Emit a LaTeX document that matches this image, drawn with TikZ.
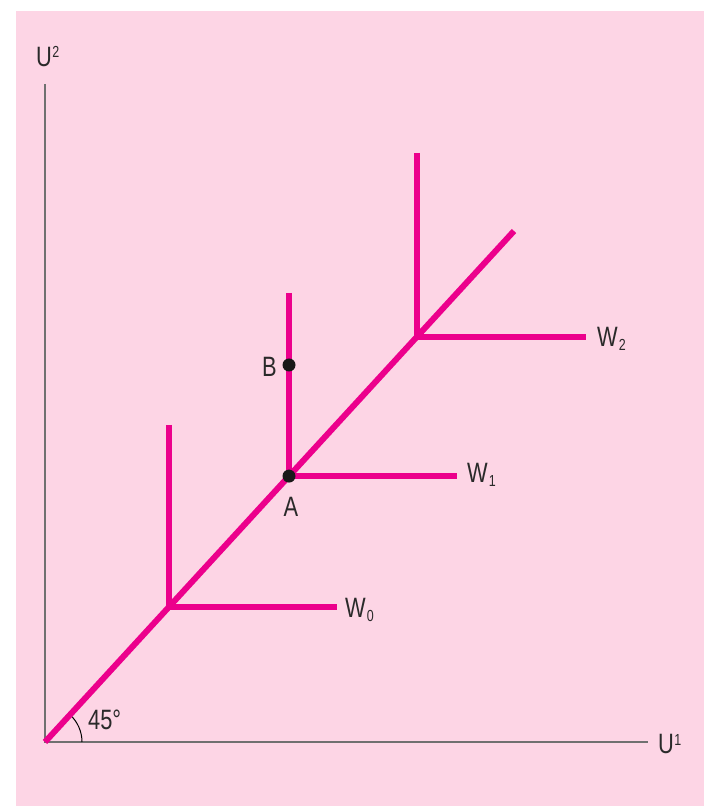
\documentclass[tikz,border=0pt]{standalone}
\usepackage{fontspec}
\usetikzlibrary{calc}
\setmainfont{Liberation Sans}[FakeStretch=0.78]
\definecolor{bgpink}{HTML}{FDD5E5}
\definecolor{mag}{HTML}{EC008C}
\definecolor{axisgray}{HTML}{707070}
\definecolor{txt}{HTML}{2A2A2A}
\newcommand{\supnum}[1]{\kern0.5pt\raisebox{9pt}{\fontsize{16}{16}\selectfont #1}}
\newcommand{\subnum}[1]{\kern1pt\raisebox{-4pt}{\fontsize{16}{16}\selectfont #1}}
\tikzset{
  wline/.style={mag, line width=6pt},
  axisline/.style={axisgray, line width=1.3pt},
  lbl/.style={font=\fontsize{28}{30}\selectfont, text=txt, inner sep=0pt},
  dot/.style={circle, fill=black!90, inner sep=0pt, minimum size=13pt}
}
\begin{document}
\begin{tikzpicture}[x=1pt,y=1pt]
\useasboundingbox (0,0) rectangle (704,806);
\fill[white] (0,0) rectangle (704,806);
\fill[bgpink] (16,0) rectangle (704,795);
% coordinates
\coordinate (O) at (45,64);
\coordinate (ytop) at (45,722);
\coordinate (xend) at (648,64);
\coordinate (Dend) at (514,575);
\coordinate (C0) at (169,199.1);
\coordinate (C0t) at (169,381);
\coordinate (C0r) at (337,199.1);
\coordinate (C1) at (289,329.9);
\coordinate (C1t) at (289,513);
\coordinate (C1r) at (457,329.9);
\coordinate (C2) at (417,469.3);
\coordinate (C2t) at (417,653);
\coordinate (C2r) at (586,469.3);
% axes
\draw[axisline] (ytop) -- (O) -- (xend);
\node[lbl, anchor=base west] (U1) at (658,52) {U\supnum{1}};
\node[lbl, anchor=base west] (U2) at (36,739) {U\supnum{2}};
% angle
\draw[black, line width=1pt] ($(O)+(37,0)$) arc[start angle=0, end angle=47.5, radius=37];
\node[lbl, anchor=base west] (ang) at (88,76) {45°};
% lines
\draw[wline] (O) -- (Dend);
\draw[wline] (C0t) -- (C0) -- (C0r);
\draw[wline] (C1t) -- (C1) -- (C1r);
\draw[wline] (C2t) -- (C2) -- (C2r);
% labels
\node[lbl, anchor=base west] (W0) at (345,188) {W\subnum{0}};
\node[lbl, anchor=base west] (W1) at (467,323) {W\subnum{1}};
\node[lbl, anchor=base west] (W2) at (597,459) {W\subnum{2}};
% points
\node[dot] (A) at (C1) {};
\node[dot] (B) at (289,441) {};
\node[lbl, anchor=base] (Alab) at (291,289) {A};
\node[lbl, anchor=base east] (Blab) at (277,429) {B};
\end{tikzpicture}
\end{document}
